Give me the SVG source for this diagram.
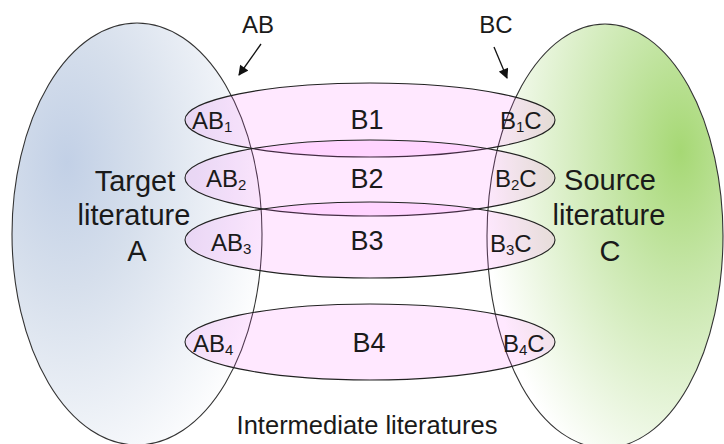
<svg xmlns="http://www.w3.org/2000/svg" width="724" height="444" viewBox="0 0 724 444">
<defs>
<radialGradient id="gA" cx="0.22" cy="0.33" r="0.85" fx="0.22" fy="0.33">
<stop offset="0" stop-color="#c2d0e6"/>
<stop offset="0.35" stop-color="#d6dfec"/>
<stop offset="1" stop-color="#ffffff"/>
</radialGradient>
<radialGradient id="gC" cx="0.82" cy="0.3" r="0.85" fx="0.82" fy="0.3">
<stop offset="0" stop-color="#a6d874"/>
<stop offset="0.35" stop-color="#c6e6a8"/>
<stop offset="1" stop-color="#ffffff"/>
</radialGradient>
<marker id="ah" viewBox="0 0 10 10" refX="9" refY="5" markerWidth="11" markerHeight="10" orient="auto" markerUnits="userSpaceOnUse">
<path d="M0,0 L10,5 L0,10 z" fill="#111"/>
</marker>
</defs>
<style>
.big{stroke:#333;stroke-width:1.1}
.b{fill:#ff66ff;fill-opacity:0.15;stroke:#222;stroke-width:1.1}
text{font-family:"Liberation Sans",Arial,sans-serif;fill:#1a1a1a}
.side{font-size:29px;text-anchor:middle}
.bl{font-size:27px;text-anchor:middle}
.ab{font-size:24px}
.sub{font-size:15px}
.top{font-size:24px;text-anchor:middle}
.con{stroke:#111;stroke-width:1.3;fill:none}
</style>
<rect width="724" height="444" fill="#ffffff"/>
<g id="target-literature-A">
<ellipse class="big" cx="137" cy="234" rx="125" ry="211" fill="url(#gA)"/>
<text class="side" x="135" y="191">Target</text>
<text class="side" x="134" y="225">literature</text>
<text class="side" x="137" y="261">A</text>
</g>
<g id="source-literature-C">
<ellipse class="big" cx="605" cy="236" rx="118" ry="212" fill="url(#gC)"/>
<text class="side" x="610" y="190">Source</text>
<text class="side" x="609" y="225">literature</text>
<text class="side" x="610" y="261">C</text>
</g>
<g id="B1">
<ellipse class="b" cx="370" cy="120" rx="185" ry="37"/>
<text class="bl" x="367" y="129">B1</text>
<text class="ab" x="192" y="129">AB<tspan class="sub" dy="3">1</tspan></text>
<text class="ab" x="500" y="129">B<tspan class="sub" dy="3">1</tspan><tspan dy="-3">C</tspan></text>
</g>
<g id="B2">
<ellipse class="b" cx="370" cy="178" rx="185" ry="38"/>
<text class="bl" x="367" y="188">B2</text>
<text class="ab" x="206" y="187">AB<tspan class="sub" dy="3">2</tspan></text>
<text class="ab" x="495" y="187">B<tspan class="sub" dy="3">2</tspan><tspan dy="-3">C</tspan></text>
</g>
<g id="B3">
<ellipse class="b" cx="370" cy="240" rx="185" ry="38"/>
<text class="bl" x="367" y="250">B3</text>
<text class="ab" x="211" y="251">AB<tspan class="sub" dy="3">3</tspan></text>
<text class="ab" x="490" y="252">B<tspan class="sub" dy="3">3</tspan><tspan dy="-3">C</tspan></text>
</g>
<g id="B4">
<ellipse class="b" cx="370" cy="342" rx="185" ry="38"/>
<text class="bl" x="369" y="352">B4</text>
<text class="ab" x="193" y="352">AB<tspan class="sub" dy="3">4</tspan></text>
<text class="ab" x="503" y="352">B<tspan class="sub" dy="3">4</tspan><tspan dy="-3">C</tspan></text>
</g>
<g id="labels">
<text class="top" x="258" y="33">AB</text>
<text class="top" x="496" y="33">BC</text>
<text x="367" y="434" font-size="25.5" text-anchor="middle">Intermediate literatures</text>
</g>
<g id="connectors">
<line class="con" x1="261" y1="44" x2="239" y2="75" marker-end="url(#ah)"/>
<line class="con" x1="494" y1="47" x2="507" y2="78" marker-end="url(#ah)"/>
</g>
</svg>
